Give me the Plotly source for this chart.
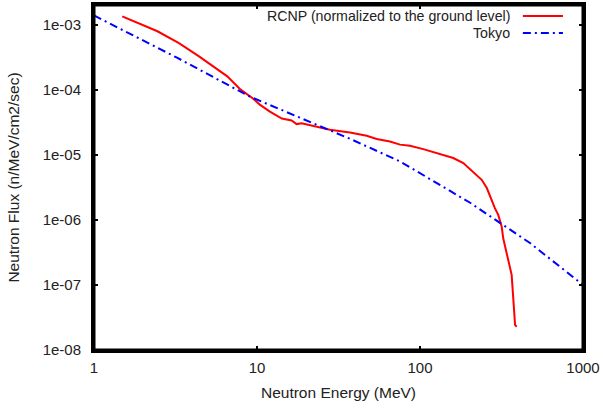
import plotly.graph_objects as go

# RCNP (normalized to the ground level)
rcnp_energy = [1.49, 2.45, 3.32, 4.41, 6.57, 7.94, 9.36, 10.4, 12.0, 14.2, 16.3, 17.5, 18.8,
               23.2, 28.0, 37.2, 47.1, 54.2, 65.4, 75.4, 86.8, 104.7, 132.6, 160, 184.4,
               212, 239, 257, 269, 288, 302, 317, 324, 340, 365, 374, 383, 392]
rcnp_flux = [1.34e-3, 7.9e-4, 5.2e-4, 3.25e-4, 1.6e-4, 1.0e-4, 7.45e-5, 5.9e-5, 4.6e-5, 3.6e-5,
             3.37e-5, 2.96e-5, 3.05e-5, 2.67e-5, 2.43e-5, 2.2e-5, 1.96e-5, 1.75e-5, 1.6e-5,
             1.43e-5, 1.37e-5, 1.22e-5, 1.03e-5, 8.9e-6, 7.45e-6, 5.5e-6, 4.12e-6, 3.08e-6,
             2.28e-6, 1.51e-6, 1.19e-6, 7.9e-7, 5.2e-7, 3.08e-7, 1.43e-7, 5.9e-8, 2.43e-8, 2.28e-8]

# Tokyo
tokyo_energy = [1, 3.23, 9.06, 18.4, 37.2, 75.4, 203, 473, 1000]
tokyo_flux = [1.38e-3, 3.1e-4, 7.8e-5, 3.7e-5, 1.76e-5, 7.9e-6, 1.83e-6, 4.4e-7, 1.0e-7]

x_ticks = [1, 10, 100, 1000]
x_tick_labels = ["1", "10", "100", "1000"]
y_ticks = [1e-8, 1e-7, 1e-6, 1e-5, 1e-4, 1e-3]
y_tick_labels = ["1e-08", "1e-07", "1e-06", "1e-05", "1e-04", "1e-03"]

series_names = ["RCNP (normalized to the ground level)", "Tokyo"]
RED = "#ff0000"
BLUE = "#0000ff"
BLUE_DASH = "8px,4px,2px,4px"
FONT = "Liberation Sans, Arial, sans-serif"
TXT = "#222"

fig = go.Figure()
fig.add_trace(go.Scatter(x=rcnp_energy, y=rcnp_flux, mode="lines", name=series_names[0],
                         line=dict(color=RED, width=2)))
fig.add_trace(go.Scatter(x=tokyo_energy, y=tokyo_flux, mode="lines", name=series_names[1],
                         line=dict(color=BLUE, width=2, dash=BLUE_DASH)))

axis_common = dict(showline=True, linecolor="black", linewidth=3, mirror="allticks",
                   ticks="inside", ticklen=4, tickwidth=2, tickcolor="black",
                   showgrid=False, zeroline=False, automargin=False,
                   tickfont=dict(family=FONT, size=15, color=TXT))

fig.update_xaxes(type="log", range=[0, 3], tickvals=x_ticks, ticktext=x_tick_labels,
                 ticklabelstandoff=2,
                 title=dict(text="Neutron Energy (MeV)", font=dict(family=FONT, size=15.5, color=TXT),
                            standoff=13),
                 **axis_common)
fig.update_yaxes(type="log", range=[-8, -2.699], tickvals=y_ticks, ticktext=y_tick_labels,
                 ticklabelstandoff=7,
                 title=dict(text="Neutron Flux (n/MeV/cm2/sec)", font=dict(family=FONT, size=15.5, color=TXT),
                            standoff=20),
                 **axis_common)

# plot frame (gnuplot border)
fig.add_shape(type="rect", xref="paper", yref="paper", x0=0, x1=1, y0=0, y1=1,
              line=dict(color="black", width=3), fillcolor="rgba(0,0,0,0)", layer="above")

# gnuplot-style legend: text right-aligned, sample line on the right
legend_rows = [(0.968, series_names[0], RED, "solid"), (0.919, series_names[1], BLUE, BLUE_DASH)]
for ypos, name, color, dash in legend_rows:
    fig.add_annotation(x=0.855, y=ypos, xref="paper", yref="paper", text=name, showarrow=False,
                       xanchor="right", yanchor="middle", font=dict(family=FONT, size=14.2, color=TXT))
    fig.add_shape(type="line", xref="paper", yref="paper", x0=0.877, x1=0.959, y0=ypos, y1=ypos,
                  line=dict(color=color, width=2, dash=dash))

fig.update_layout(width=603, height=408, showlegend=False,
                  margin=dict(l=94, r=20, t=5, b=58, autoexpand=False),
                  plot_bgcolor="white", paper_bgcolor="white",
                  font=dict(family=FONT, size=15, color=TXT))

fig.write_html("out.html", config={"displayModeBar": False, "staticPlot": True},
               post_script="document.body.style.margin='0px';document.body.style.padding='0px';document.body.style.overflow='hidden';")
